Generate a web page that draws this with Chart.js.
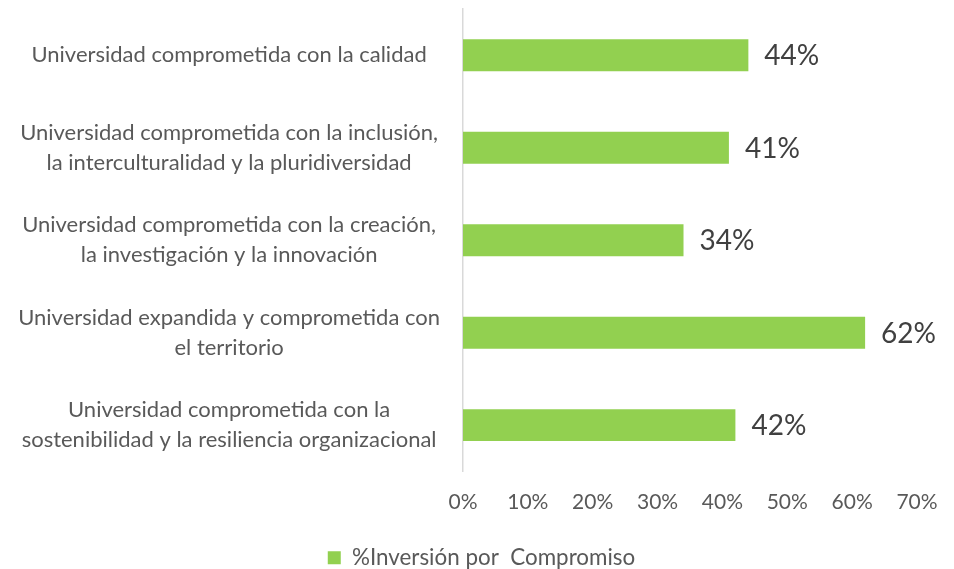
<!DOCTYPE html>
<html>
<head>
<meta charset="utf-8">
<script src="https://cdn.jsdelivr.net/npm/chart.js@4.4.1/dist/chart.umd.min.js"></script>
<style>
  html, body { margin: 0; padding: 0; background: #fff; }
  #wrap { width: 954px; height: 569px; }
</style>
</head>
<body>
<div id="wrap"><canvas id="chart"></canvas></div>
<script>
const categories = [
  'Universidad comprometida con la calidad',
  ['Universidad comprometida con la inclusión,', 'la interculturalidad y la pluridiversidad'],
  ['Universidad comprometida con la creación,', 'la investigación y la innovación'],
  ['Universidad expandida y comprometida con', 'el territorio'],
  ['Universidad comprometida con la', 'sostenibilidad y la resiliencia organizacional']
];
const inversion = [44, 41, 34, 62, 42];
const seriesName = '%Inversión por  Compromiso';
const xTicks = [0, 10, 20, 30, 40, 50, 60, 70];

const FONT = 'Lato, "Open Sans", sans-serif';

// value labels at the end of each bar
const valueLabels = {
  id: 'valueLabels',
  afterDatasetsDraw(chart) {
    const ctx = chart.ctx;
    const meta = chart.getDatasetMeta(0);
    ctx.save();
    ctx.font = '28px ' + FONT;
    ctx.fillStyle = '#404040';
    ctx.textAlign = 'left';
    ctx.textBaseline = 'middle';
    meta.data.forEach((bar, i) => {
      ctx.fillText(inversion[i] + '%', bar.x + 16, bar.y + 1);
    });
    ctx.restore();
  }
};

// the legend sits a little right of the canvas centre
const legendShift = {
  id: 'legendShift',
  afterLayout(chart) {
    chart.legend.left += 23;
    chart.legend.right += 23;
  }
};

new Chart(document.getElementById('chart'), {
  type: 'bar',
  data: {
    labels: categories,
    datasets: [{
      label: seriesName,
      data: inversion,
      backgroundColor: '#92D050',
      borderWidth: 0,
      categoryPercentage: 1,
      barPercentage: 0.345
    }]
  },
  options: {
    indexAxis: 'y',
    responsive: true,
    maintainAspectRatio: false,
    animation: false,
    layout: { autoPadding: false, padding: { left: 0, right: 37, top: 9, bottom: -10 } },
    scales: {
      x: {
        min: 0,
        max: 70,
        afterBuildTicks(scale) { scale.ticks = xTicks.map(v => ({ value: v })); },
        afterFit(scale) { scale.height += 6; scale.paddingLeft = 0; scale.paddingRight = 0; },
        grid: { display: false, drawTicks: false },
        border: { display: false },
        ticks: {
          padding: 18,
          color: '#595959',
          font: { family: FONT, size: 21 },
          callback: v => v + '%'
        }
      },
      y: {
        afterFit(scale) {
          scale.width = 463;
          scale.paddingTop = 0;
          scale.paddingBottom = 0;
        },
        grid: { display: false, drawTicks: false },
        border: { display: true, color: '#D9D9D9', width: 1.5 },
        ticks: {
          padding: 23,
          crossAlign: 'center',
          color: '#595959',
          font: { family: FONT, size: 22, lineHeight: 1.36 }
        }
      }
    },
    plugins: {
      legend: {
        position: 'bottom',
        labels: {
          boxWidth: 13,
          boxHeight: 13,
          padding: 8,
          color: '#595959',
          font: { family: FONT, size: 22.4 }
        }
      },
      tooltip: { enabled: false }
    }
  },
  plugins: [valueLabels, legendShift]
});
</script>
</body>
</html>
